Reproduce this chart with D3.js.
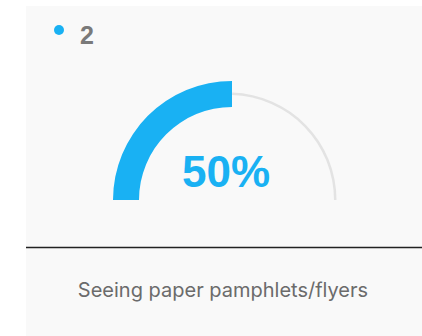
<!DOCTYPE html>
<html><head><meta charset="utf-8">
<script src="https://cdn.jsdelivr.net/npm/d3@7"></script>
<style>html,body{margin:0;padding:0;background:#fff;}svg{display:block;}</style>
</head><body>
<script>
const seriesLabels = ["2"];
const values = [50];
const categories = ["Seeing paper pamphlets/flyers"];
const domainMax = [100];

const W = 422, H = 336;
const svg = d3.select("body").append("svg").attr("width", W).attr("height", H);
svg.append("rect").attr("x", 26).attr("y", 6).attr("width", W - 26).attr("height", H - 6).attr("fill", "#f9f9f9");

const blue = "#19b1f3";
// legend
svg.append("circle").attr("cx", 59).attr("cy", 30).attr("r", 5).attr("fill", blue);
svg.append("text").attr("x", 80).attr("y", 44).text(seriesLabels[0])
  .attr("font-family", "Liberation Sans, Arial, sans-serif").attr("font-weight", "bold")
  .attr("font-size", 25).attr("fill", "#7a7a7a");

const angle = d3.scaleLinear().domain([0, domainMax[0]]).range([-Math.PI / 2, Math.PI / 2]);
const gb = svg.append("g").attr("transform", "translate(229,200)");
const bgArc = d3.arc().innerRadius(105).outerRadius(107.5);
gb.append("path").attr("d", bgArc({startAngle: angle(values[0]) + 0.03, endAngle: angle(domainMax[0])})).attr("fill", "#e3e3e3");
const g = svg.append("g").attr("transform", "translate(232,200)");
const valArc = d3.arc().innerRadius(93).outerRadius(119);
g.append("path").attr("d", valArc({startAngle: angle(0), endAngle: angle(values[0])})).attr("fill", blue);

svg.append("text").attr("x", 226).attr("y", 187).attr("text-anchor", "middle")
  .text(values[0] + "%")
  .attr("font-family", "Liberation Sans, Arial, sans-serif").attr("font-weight", "bold")
  .attr("font-size", 44).attr("fill", blue);

svg.append("line").attr("x1", 26).attr("x2", W).attr("y1", 247.5).attr("y2", 247.5)
  .attr("stroke", "#222").attr("stroke-width", 1.5);

svg.append("text").attr("x", 223).attr("y", 297).attr("text-anchor", "middle")
  .text(categories[0])
  .attr("font-family", "Inter, sans-serif").attr("font-size", 20).attr("fill", "#6b6b6b");
</script>
</body></html>
